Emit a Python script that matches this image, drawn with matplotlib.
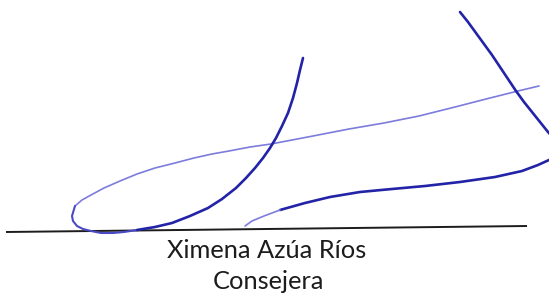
"""Signature block: hand-drawn strokes over a baseline, name and title below."""

import matplotlib

matplotlib.use("Agg")
import matplotlib.pyplot as plt  # noqa: E402

W, H = 549, 293

NAVY = "#2323a8"
MID = "#4a4ac4"
LIGHT = "#7c7cdc"
INK = "#1c1c1c"

# pixel coordinates (y grows downward)
loop_dark_x = [303, 300, 297, 293, 288, 282, 276, 270, 263, 255, 246, 236, 222, 208, 190, 172, 155, 137]
loop_dark_y = [58, 70, 83, 98, 113, 126, 138, 148, 158, 168, 178, 188, 199, 208, 216, 223, 227, 230]
loop_mid_x = [137, 124, 113, 101, 91, 83, 77, 73, 72, 75]
loop_mid_y = [230, 232, 233, 233, 231, 229, 226, 221, 216, 206]
loop_light_x = [75, 82, 91, 104, 120, 137, 155, 175, 194, 212, 229, 250, 271, 292, 313, 349,
                384, 419, 455, 490, 518, 539]
loop_light_y = [206, 200, 195, 188, 181, 174, 168, 163, 158, 154, 151, 147, 144, 140, 136, 129,
                123, 116, 107, 98, 91, 86]

hook_x = [460, 468, 476, 484, 492, 500, 508, 516, 524, 532, 540, 548, 556, 562, 563, 558,
          549, 538, 522, 495, 460, 425, 392, 360, 330, 305, 280, 264, 252, 245]
hook_y = [12, 22, 33, 44, 55, 67, 79, 91, 102, 112, 122, 132, 141, 149, 154, 157,
          160, 165, 171, 177, 182, 186, 189, 192, 197, 203, 210, 216, 221, 226]
hook_tail = 4  # last points are drawn lighter (pen lifting)

rule_x = [6, 527]
rule_y = [232, 226]

name = "Ximena Azúa Ríos"
title = "Consejera"
name_pos = (267, 258)
title_pos = (268, 289)


def main() -> None:
    fig = plt.figure(figsize=(W / 100, H / 100), dpi=100)
    ax = fig.add_axes([0, 0, 1, 1])
    ax.set_xlim(0, W)
    ax.set_ylim(H, 0)
    ax.axis("off")

    ax.plot(rule_x, rule_y, color=INK, lw=1.4, solid_capstyle="butt")

    style = dict(solid_capstyle="round", solid_joinstyle="round")
    ax.plot(loop_light_x, loop_light_y, color=LIGHT, lw=1.2, **style)
    ax.plot(loop_mid_x, loop_mid_y, color=MID, lw=1.5, **style)
    ax.plot(loop_dark_x, loop_dark_y, color=NAVY, lw=1.9, **style)

    ax.plot(hook_x[: -hook_tail + 1], hook_y[: -hook_tail + 1], color=NAVY, lw=1.9, **style)
    ax.plot(hook_x[-hook_tail:], hook_y[-hook_tail:], color=LIGHT, lw=1.2, **style)

    for text, (x, y) in [(name, name_pos), (title, title_pos)]:
        ax.text(x, y, text, ha="center", va="baseline", fontsize=18.3,
                family=["Lato", "DejaVu Sans"], color=INK)

    fig.savefig("out.png", dpi=100, facecolor="white")
    plt.close(fig)


if __name__ == "__main__":
    main()
